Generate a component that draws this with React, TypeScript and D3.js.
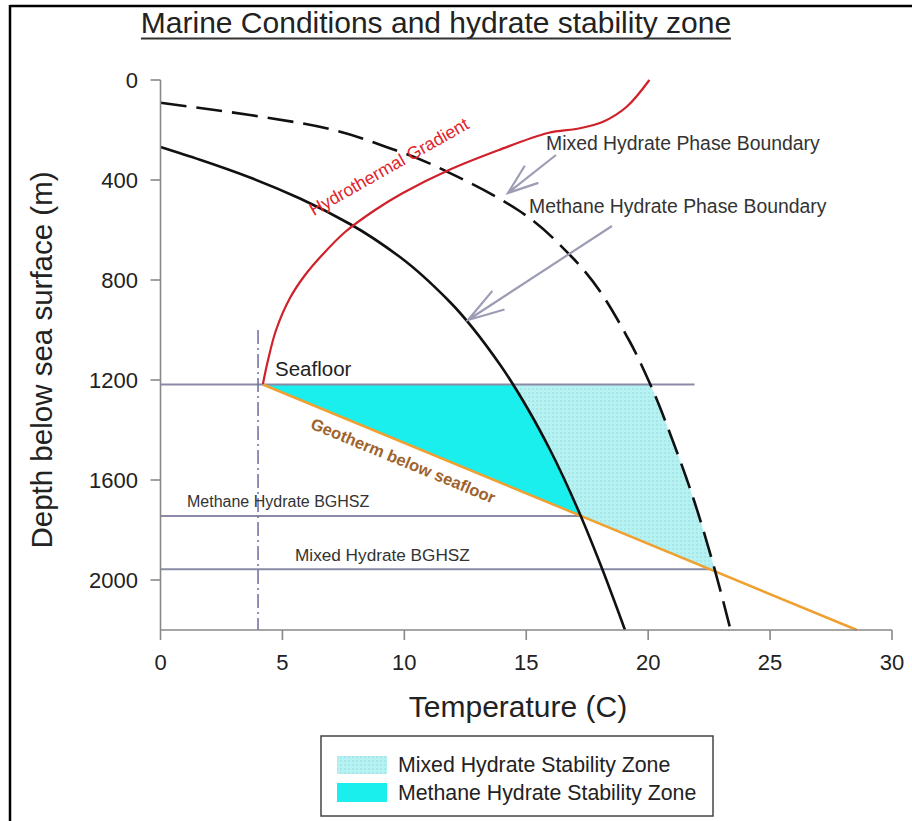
import React from "react";
import * as d3 from "d3";

// ---- data (temperature °C, depth m) ----
const xTicks = [0, 5, 10, 15, 20, 25, 30];
const yTicks = [0, 400, 800, 1200, 1600, 2000];

const methaneT = [0, 1.62, 3.67, 5.72, 7.77, 9.82, 11.87, 13.92, 15.15, 15.97, 17.2, 18.02, 19.05];
const methaneD = [268, 319, 390, 474, 576, 708, 888, 1138, 1330, 1478, 1736, 1932, 2200];

const mixedT = [0, 3.67, 5.72, 9.62, 12.45, 14.66, 16.86, 19.21, 20.08, 21.02, 21.84, 22.66, 23.38];
const mixedD = [91, 140, 172, 280, 400, 520, 707, 1040, 1216, 1446, 1670, 1934, 2200];

const hydroT = [20.05, 19.12, 18.15, 17.2, 15.89, 13.88, 11.83, 9.94, 8.8, 7.57, 6.63, 5.93, 5.31, 4.74, 4.41, 4.2];
const hydroD = [0, 107, 167, 193, 212, 280, 360, 452, 520, 608, 700, 780, 872, 1000, 1120, 1216];

const geothermT = [4.2, 28.56];
const geothermD = [1218, 2200];

const seafloorD = 1218;
const methaneBGHSZ = 1744;
const mixedBGHSZ = 1957;
const seafloorEndT = 21.9;
const bottomWaterT = 4.0;

const FONT = "'Liberation Sans', Arial, Helvetica, sans-serif";

export default function App() {
  const x = d3.scaleLinear().domain([0, 30]).range([160.5, 892]);
  const y = d3.scaleLinear().domain([0, 2200]).range([80, 630]);

  const zip = (T: number[], D: number[]) => T.map((t, i) => ({ t, d: D[i] }));
  const methane = zip(methaneT, methaneD);
  const mixed = zip(mixedT, mixedD);
  const hydro = zip(hydroT, hydroD);

  const curveLine = d3
    .line<{ t: number; d: number }>()
    .x((p) => x(p.t))
    .y((p) => y(p.d))
    .curve(d3.curveMonotoneY);

  const area = d3
    .area<{ t: number; d: number }>()
    .y((p) => y(p.d))
    .x0(() => x(0))
    .x1((p) => x(p.t))
    .curve(d3.curveMonotoneY);

  const hydroLine = d3
    .line<{ t: number; d: number }>()
    .x((p) => x(p.t))
    .y((p) => y(p.d))
    .curve(d3.curveCatmullRom.alpha(0.5));

  const slope = (geothermD[1] - geothermD[0]) / (geothermT[1] - geothermT[0]);
  const geoAt = (t: number) => geothermD[0] + (t - geothermT[0]) * slope;
  const tAtGeo = (dd: number) => geothermT[0] + (dd - geothermD[0]) / slope;

  const clipPts: [number, number][] = [
    [x(geothermT[0]), y(seafloorD)],
    [x(40), y(seafloorD)],
    [x(40), y(geoAt(40))],
  ];

  const gray = "#8a8aa6";
  const arrowCol = "#9c9cb4";

  const arrow = (x1: number, y1: number, x2: number, y2: number, len: number, ang: number) => {
    const a = Math.atan2(y1 - y2, x1 - x2);
    const r = (ang * Math.PI) / 180;
    const w1 = [x2 + len * Math.cos(a + r), y2 + len * Math.sin(a + r)];
    const w2 = [x2 + len * Math.cos(a - r), y2 + len * Math.sin(a - r)];
    return `M${x1},${y1}L${x2},${y2}M${w1[0]},${w1[1]}L${x2},${y2}L${w2[0]},${w2[1]}`;
  };

  const geoAngle = (Math.atan2(y(geothermD[1]) - y(geothermD[0]), x(geothermT[1]) - x(geothermT[0])) * 180) / Math.PI;

  return (
    <svg
      width={912}
      height={821}
      style={{ position: "absolute", left: 0, top: 0, background: "#fff" }}
      fontFamily={FONT}
    >
      <defs>
        <pattern id="dots" width="4" height="4" patternUnits="userSpaceOnUse">
          <rect width="4" height="4" fill="#b6f2f2" />
          <circle cx="1" cy="1" r="0.7" fill="#8cd6da" />
        </pattern>
        <clipPath id="zone">
          <polygon points={clipPts.map((p) => p.join(",")).join(" ")} />
        </clipPath>
      </defs>

      {/* frame */}
      <line x1={10} y1={6} x2={912} y2={6} stroke="#000" strokeWidth={2.5} />
      <line x1={10} y1={5} x2={10} y2={821} stroke="#000" strokeWidth={2.5} />

      {/* title */}
      <text x={436} y={33} textAnchor="middle" fontSize={30} fill="#222">
        Marine Conditions and hydrate stability zone
      </text>
      <line x1={141} y1={38.5} x2={731} y2={38.5} stroke="#333" strokeWidth={2} />

      {/* fills */}
      <g clipPath="url(#zone)">
        <path d={area(mixed) || ""} fill="url(#dots)" />
        <path d={area(methane) || ""} fill="#1aefee" />
      </g>

      {/* horizontal reference lines */}
      <line x1={x(0)} x2={x(seafloorEndT)} y1={y(seafloorD)} y2={y(seafloorD)} stroke={gray} strokeWidth={2} />
      <line x1={x(0)} x2={x(tAtGeo(methaneBGHSZ))} y1={y(methaneBGHSZ)} y2={y(methaneBGHSZ)} stroke={gray} strokeWidth={2} />
      <line x1={x(0)} x2={x(tAtGeo(mixedBGHSZ))} y1={y(mixedBGHSZ)} y2={y(mixedBGHSZ)} stroke={gray} strokeWidth={2} />

      {/* bottom water temperature dash-dot */}
      <line
        x1={x(bottomWaterT)}
        x2={x(bottomWaterT)}
        y1={y(1000)}
        y2={y(2200)}
        stroke="#6c6c9c"
        strokeWidth={1.5}
        strokeDasharray="14,4,2,4"
      />

      {/* geotherm */}
      <line
        x1={x(geothermT[0])}
        y1={y(geothermD[0])}
        x2={x(geothermT[1])}
        y2={y(geothermD[1])}
        stroke="#f0a030"
        strokeWidth={2.5}
      />

      {/* phase boundaries */}
      <path d={curveLine(methane) || ""} fill="none" stroke="#111" strokeWidth={2.6} />
      <path d={curveLine(mixed) || ""} fill="none" stroke="#111" strokeWidth={2.6} strokeDasharray="26,10" />

      {/* hydrothermal gradient */}
      <path d={hydroLine(hydro) || ""} fill="none" stroke="#d0202a" strokeWidth={2.2} />

      {/* axes */}
      <line x1={x(0)} x2={x(0)} y1={y(0)} y2={y(2200)} stroke="#888" strokeWidth={1.6} />
      <line x1={x(0)} x2={x(30)} y1={y(2200)} y2={y(2200)} stroke="#888" strokeWidth={1.6} />
      {yTicks.map((v) => (
        <g key={"y" + v}>
          <line x1={x(0) - 10} x2={x(0)} y1={y(v)} y2={y(v)} stroke="#888" strokeWidth={1.6} />
          <text x={138} y={y(v)} dy="0.36em" textAnchor="end" fontSize={22} fill="#222">
            {v}
          </text>
        </g>
      ))}
      {xTicks.map((v) => (
        <g key={"x" + v}>
          <line x1={x(v)} x2={x(v)} y1={y(2200)} y2={y(2200) + 10} stroke="#888" strokeWidth={1.6} />
          <text x={x(v)} y={670} textAnchor="middle" fontSize={22} fill="#222">
            {v}
          </text>
        </g>
      ))}
      <text x={518} y={717} textAnchor="middle" fontSize={30} fill="#222">
        Temperature (C)
      </text>
      <text transform="translate(52,360) rotate(-90)" textAnchor="middle" fontSize={29.5} fill="#222">
        Depth below sea surface (m)
      </text>

      {/* labels */}
      <text x={275} y={376} fontSize={20.5} fill="#222">
        Seafloor
      </text>
      <text x={187} y={507} fontSize={16} fill="#333">
        Methane Hydrate BGHSZ
      </text>
      <text x={295} y={561} fontSize={17.2} fill="#333">
        Mixed Hydrate BGHSZ
      </text>
      <text transform={`translate(392,172) rotate(-29.5)`} textAnchor="middle" fontSize={17.8} fill="#e0242c">
        Hydrothermal Gradient
      </text>
      <text
        transform={`translate(401,466) rotate(${geoAngle})`}
        textAnchor="middle"
        fontSize={16.5}
        fontWeight="bold"
        fill="#9e642c"
      >
        Geotherm below seafloor
      </text>
      <text x={546} y={150} fontSize={19.4} fill="#333">
        Mixed Hydrate Phase Boundary
      </text>
      <text x={529} y={213} fontSize={19.4} fill="#333">
        Methane Hydrate Phase Boundary
      </text>
      <path d={arrow(556, 155, 508, 193, 32, 20)} fill="none" stroke={arrowCol} strokeWidth={2.2} />
      <path d={arrow(612, 226, 468, 320, 38, 17)} fill="none" stroke={arrowCol} strokeWidth={2.2} />

      {/* legend */}
      <rect x={321} y={736} width={392} height={80} fill="#fff" stroke="#444" strokeWidth={1.5} />
      <rect x={337} y={756} width={50} height={18} fill="url(#dots)" />
      <rect x={337} y={783} width={50} height={19} fill="#1aefee" />
      <text x={398} y={772} fontSize={21.3} fill="#222">
        Mixed Hydrate Stability Zone
      </text>
      <text x={398} y={800} fontSize={21.3} fill="#222">
        Methane Hydrate Stability Zone
      </text>
    </svg>
  );
}
